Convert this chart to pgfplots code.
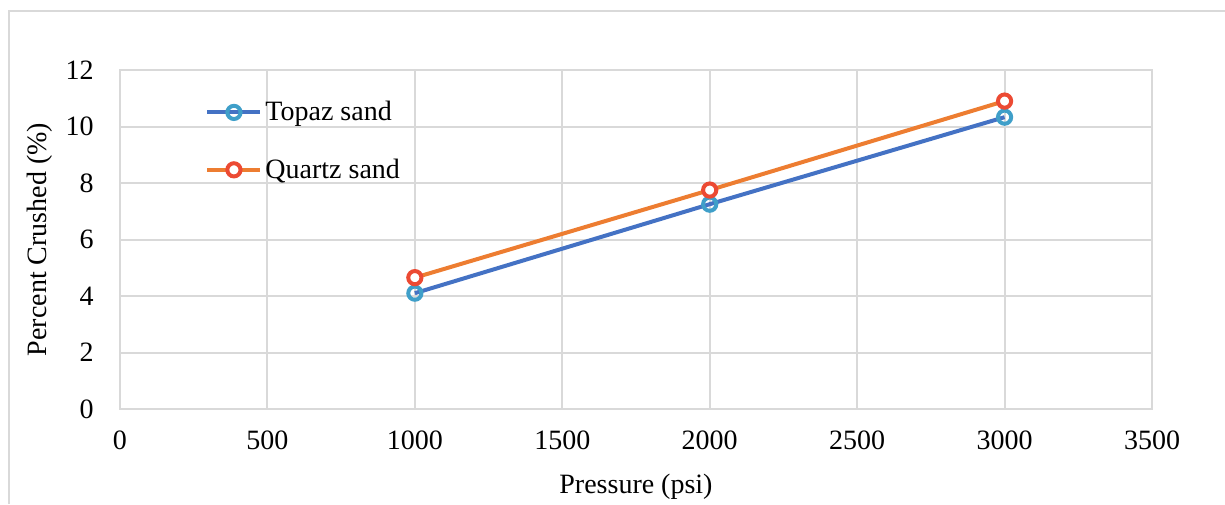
\documentclass[border=0pt]{standalone}
\usepackage{pgfplots}
\pgfplotsset{compat=1.18}
\usepackage{fontspec}
\setmainfont{Liberation Serif}
\definecolor{gridgray}{HTML}{D9D9D9}
\definecolor{topazline}{HTML}{4472C4}
\definecolor{topazmark}{HTML}{3F9FC9}
\definecolor{quartzline}{HTML}{ED7D31}
\definecolor{quartzmark}{HTML}{EC4A33}
\begin{document}
\begin{tikzpicture}
\path[use as bounding box] (-60pt,-47.5pt) rectangle (552.5pt,204.5pt);
\draw[gridgray, line width=0.8pt] (-55.5pt,-47.5pt) -- (-55.5pt,199pt) -- (552.5pt,199pt);
\begin{axis}[
  at={(0pt,0pt)}, anchor=south west,
  scale only axis,
  width=516pt, height=169.5pt,
  xmin=0, xmax=3500, ymin=0, ymax=12,
  xtick={0,500,...,3500}, ytick={0,2,...,12},
  major tick length=0pt,
  grid=major,
  grid style={gridgray, line width=1pt},
  axis line style={gridgray, line width=1pt},
  /pgf/number format/assume math mode=true,
  /pgf/number format/1000 sep={},
  tick label style={font=\fontsize{14}{17}\selectfont},
  xticklabel style={anchor=center, yshift=-15.5pt, inner sep=0pt},
  yticklabel style={anchor=east, xshift=-13pt, inner sep=0pt},
  label style={font=\fontsize{14}{17}\selectfont},
  xlabel={Pressure (psi)},
  ylabel={Percent Crushed (\%)},
  xlabel style={at={(axis description cs:0.5,0)}, anchor=center, yshift=-39pt},
  ylabel style={at={(axis description cs:-0.0775,0.5)}, anchor=center},
  legend style={at={(axis description cs:0.0824,0.918)}, anchor=north west,
    draw=none, fill=none, font=\fontsize{14}{17}\selectfont,
    row sep=14.5pt, inner sep=0pt, nodes={inner sep=1.5pt}},
  legend cell align=left,
  legend image code/.code={
    \draw[mark repeat=2,mark phase=2] plot coordinates {(0pt,0pt) (13.25pt,0pt) (26.5pt,0pt)};
  },
]
\addplot[topazline, line width=2pt, mark=o, mark size=3.3pt,
  mark options={draw=topazmark, fill=white, line width=2pt}]
  coordinates {(1000,4.1) (2000,7.25) (3000,10.33)};
\addlegendentry{Topaz sand}
\addplot[quartzline, line width=2pt, mark=*, mark size=3.3pt,
  mark options={draw=quartzmark, fill=white, line width=2pt}]
  coordinates {(1000,4.65) (2000,7.75) (3000,10.9)};
\addlegendentry{Quartz sand}
\end{axis}
\end{tikzpicture}
\end{document}
